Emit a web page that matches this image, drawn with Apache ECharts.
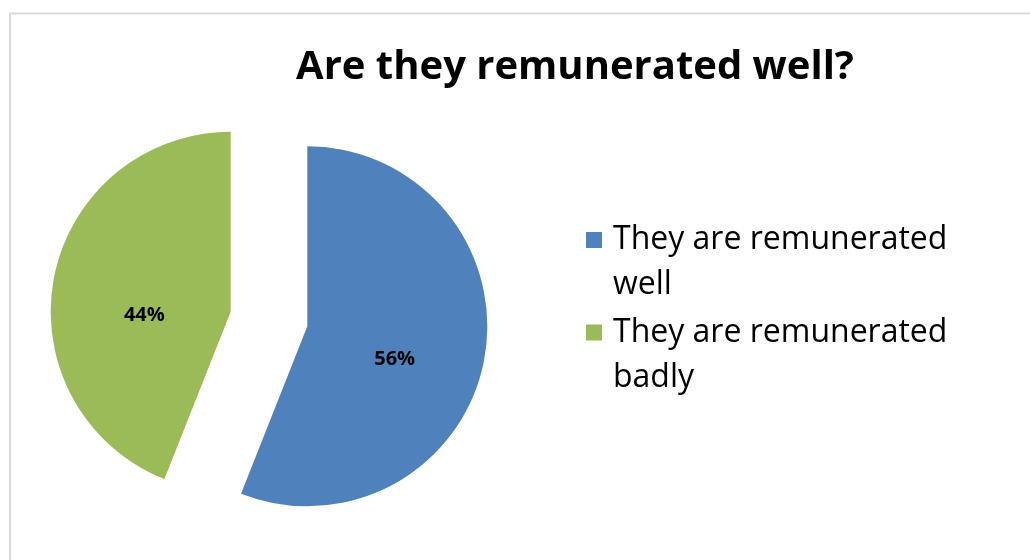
<!DOCTYPE html>
<html>
<head>
<meta charset="utf-8">
<script src="https://cdn.jsdelivr.net/npm/echarts@6/dist/echarts.min.js"></script>
<style>
html,body{margin:0;padding:0;background:#fff;}
#chart{width:1030px;height:560px;}
</style>
</head>
<body>
<div id="chart"></div>
<script>
var titleText = 'Are they remunerated well?';
var categories = ['They are remunerated well', 'They are remunerated badly'];
var values = [56, 44];
var colors = ['#4F81BD', '#9BBB59'];

// legend marker: a square aligned with the first text line inside a tall box
var legendIcon = 'path://M0,0L16,0L16,0.001L0,0.001Z M0,14.5L16,14.5L16,30.5L0,30.5Z M0,89.999L16,89.999L16,90L0,90Z';

var chart = echarts.init(document.getElementById('chart'), null, {renderer: 'canvas'});
var option = {
  animation: false,
  backgroundColor: '#ffffff',
  graphic: [{
    type: 'rect',
    shape: {x: 10, y: 13.5, width: 1100, height: 600},
    style: {fill: 'none', stroke: '#d9d9d9', lineWidth: 2},
    silent: true
  }],
  title: {
    text: titleText,
    left: 570,
    textAlign: 'center',
    top: 43,
    textStyle: {fontFamily: 'Open Sans', fontWeight: 'bold', fontSize: 40, color: '#000'}
  },
  legend: {
    orient: 'vertical',
    left: 586,
    top: 217.5,
    padding: 0,
    icon: legendIcon,
    itemWidth: 16,
    itemHeight: 90,
    itemGap: 2.5,
    selectedMode: false,
    itemStyle: {borderWidth: 0},
    data: categories,
    formatter: function (name) { return name.replace('remunerated ', 'remunerated\n'); },
    textStyle: {fontFamily: 'Open Sans', fontSize: 32, lineHeight: 45, color: '#000', padding: [0, 0, 0, 6]}
  },
  series: [{
    type: 'pie',
    center: [269, 319],
    radius: 180,
    startAngle: 90,
    clockwise: true,
    selectedMode: 'multiple',
    selectedOffset: 39,
    emphasis: {disabled: true},
    data: categories.map(function (c, i) {
      return {name: c, value: values[i], selected: true, itemStyle: {color: colors[i]}};
    }),
    label: {
      position: 'inner',
      formatter: function (p) { return Math.round(p.percent) + '%'; },
      fontFamily: 'Open Sans',
      fontWeight: 'bold',
      fontSize: 20,
      color: '#000'
    },
    labelLayout: function (p) {
      return p.dataIndex === 0 ? {dx: -4, dy: 16} : {dx: 5, dy: 21};
    },
    labelLine: {show: false}
  }]
};
chart.setOption(option);
</script>
</body>
</html>
